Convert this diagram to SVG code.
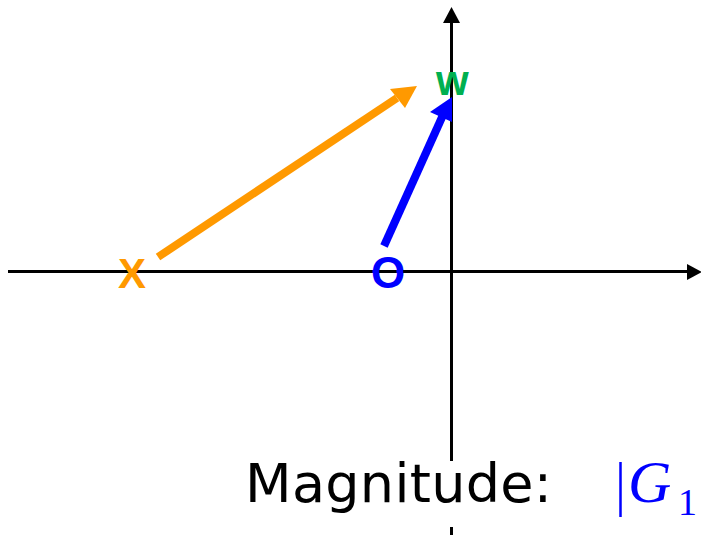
<svg xmlns="http://www.w3.org/2000/svg" width="701" height="535" viewBox="0 0 701 535">
<style>
.axis{stroke:#000;stroke-width:3;fill:none}
.lbl{font-family:"Liberation Sans",Arial,sans-serif;font-weight:bold;font-size:42px}
</style>
<rect width="701" height="535" fill="#fff"/>
<g id="connectors">
<line class="axis" x1="8" y1="271.5" x2="688" y2="271.5"/>
<path d="M687,264L702,272L687,280z" fill="#000"/>
<line class="axis" x1="451.5" y1="535" x2="451.5" y2="22"/>
<path d="M443,23L451.5,7L460,23z" fill="#000"/>
<line x1="158" y1="257" x2="397" y2="98" stroke="#FF9900" stroke-width="8"/>
<path d="M390,89L417,86L405,108z" fill="#FF9900"/>
<line x1="384" y1="246" x2="443" y2="115" stroke="#0000FF" stroke-width="8"/>
<path d="M430,112L452,97L452,122z" fill="#0000FF"/>
</g>
<g id="x"><text class="lbl" x="118" y="288" fill="#FF9900">X</text></g>
<g id="o"><text class="lbl" x="371" y="288" font-size="44" fill="#0000FF" style="font-size:44px">O</text></g>
<g id="w"><text class="lbl" x="436" y="95" fill="#00B050">w</text></g>
<g id="caption">
<rect x="240" y="461" width="330" height="66" fill="#fff"/>
<text x="245" y="502" font-family="DejaVu Sans,sans-serif" font-size="54" textLength="307" fill="#000">Magnitude:</text>
<line x1="620.5" y1="462" x2="620.5" y2="517" stroke="#0000FF" stroke-width="2.5"/>
<text x="628" y="502" font-family="Liberation Serif,serif" font-style="italic" font-size="60" fill="#0000FF">G</text>
<text x="678" y="515" font-family="Liberation Serif,serif" font-size="38" fill="#0000FF">1</text>
</g>
</svg>
